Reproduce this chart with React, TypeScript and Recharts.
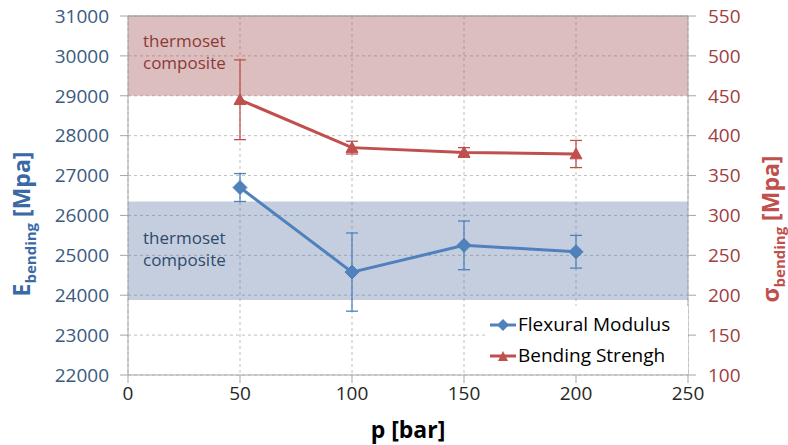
import React from "react";
import {
  LineChart,
  Line,
  XAxis,
  YAxis,
  CartesianGrid,
  ReferenceArea,
  ReferenceLine,
  ErrorBar,
} from "recharts";

// values
const pressure = [50, 100, 150, 200];
const modulus = [26700, 24580, 25250, 25090];
const modulusErr = [350, 980, 610, 410];
const strength = [445, 385, 379, 377];
const strengthErr = [50, 8, 6, 17];

const xTicks = [0, 50, 100, 150, 200, 250];
const leftTicks = [22000, 23000, 24000, 25000, 26000, 27000, 28000, 29000, 30000, 31000];
const rightTicks = [100, 150, 200, 250, 300, 350, 400, 450, 500, 550];

const modulusBand = [23880, 26350];
const strengthBand = [450, 550];

const BLUE = "#4f81bd";
const RED = "#c0504d";
const FONT = "'Open Sans', sans-serif";

const data = pressure.map((p, i) => ({
  p,
  modulus: modulus[i],
  modulusErr: modulusErr[i],
  strength: strength[i],
  strengthErr: strengthErr[i],
}));

const Diamond = (props: any) => {
  const { cx, cy } = props;
  if (cx == null || cy == null) return null;
  const r = 7;
  return (
    <polygon
      points={`${cx},${cy - r} ${cx + r},${cy} ${cx},${cy + r} ${cx - r},${cy}`}
      fill={BLUE}
      stroke={BLUE}
    />
  );
};

const Triangle = (props: any) => {
  const { cx, cy } = props;
  if (cx == null || cy == null) return null;
  const r = 6;
  return (
    <polygon
      points={`${cx},${cy - r} ${cx + r},${cy + r * 0.8} ${cx - r},${cy + r * 0.8}`}
      fill={RED}
      stroke={RED}
    />
  );
};

const bandLabel = (color: string, dy: number) => (props: any) => {
  const { x, y } = props.viewBox;
  return (
    <g fill={color} fontSize={17} fontFamily={FONT}>
      <text x={x + 15} y={y + dy - 1}>thermoset</text>
      <text x={x + 15} y={y + dy + 21}>composite</text>
    </g>
  );
};

const leftTitle = () => (
  <text
    transform="translate(30, 224) rotate(-90)"
    textAnchor="middle"
    fill="#3a6aa5"
    fontFamily={FONT}
    fontWeight="bold"
    fontSize={23}
  >
    E<tspan fontSize={15} dy={6}>bending</tspan>
    <tspan dy={-6}> [Mpa]</tspan>
  </text>
);

const rightTitle = () => (
  <text
    transform="translate(779, 229) rotate(-90)"
    textAnchor="middle"
    fill={RED}
    fontFamily={FONT}
    fontWeight="bold"
    fontSize={23}
  >
    σ<tspan fontSize={15} dy={6}>bending</tspan>
    <tspan dy={-6}> [Mpa]</tspan>
  </text>
);

const LegendBox = () => (
  <div
    style={{
      position: "absolute",
      left: 488,
      top: 306,
      background: "#fff",
      width: 198,
      padding: "3px 0 3px 2px",
      fontFamily: FONT,
      fontSize: 19,
      color: "#000",
      lineHeight: "31px",
    }}
  >
    <div style={{ display: "flex", alignItems: "center" }}>
      <svg width={26} height={16}>
        <line x1={0} y1={8} x2={26} y2={8} stroke={BLUE} strokeWidth={3} />
        <polygon points="13,2 19,8 13,14 7,8" fill={BLUE} />
      </svg>
      <span style={{ marginLeft: 2 }}>Flexural Modulus</span>
    </div>
    <div style={{ display: "flex", alignItems: "center" }}>
      <svg width={26} height={16}>
        <line x1={0} y1={8} x2={26} y2={8} stroke={RED} strokeWidth={3} />
        <polygon points="13,3 18,13 8,13" fill={RED} />
      </svg>
      <span style={{ marginLeft: 2 }}>Bending Strengh</span>
    </div>
  </div>
);

export default function App() {
  return (
    <div style={{ position: "absolute", left: 0, top: 0, width: 788, height: 445, background: "#fff" }}>
      <LineChart width={788} height={445} data={data} margin={{ top: 16, right: 0, bottom: 0, left: 0 }}>
        <CartesianGrid yAxisId="left" stroke="#bfbfbf" strokeDasharray="3 3" />
        <ReferenceArea
          yAxisId="right"
          y1={strengthBand[0]}
          y2={strengthBand[1]}
          fill="#9b4545"
          fillOpacity={0.35}
          stroke="none"
          label={bandLabel("#8b3a3a", 32)}
        />
        <ReferenceArea
          yAxisId="left"
          y1={modulusBand[0]}
          y2={modulusBand[1]}
          fill="#4f6a9f"
          fillOpacity={0.33}
          stroke="none"
          label={bandLabel("#2e4a6b", 44)}
        />
        <ReferenceLine yAxisId="left" y={31000} stroke="#a6a6a6" strokeWidth={1.5} />
        <XAxis
          dataKey="p"
          type="number"
          domain={[0, 250]}
          ticks={xTicks}
          height={70}
          stroke="#a6a6a6"
          tickSize={8}
          tickMargin={4}
          tick={{ fill: "#262626", fontSize: 19, fontFamily: FONT }}
          label={{
            value: "p [bar]",
            position: "insideBottom",
            offset: 7,
            fill: "#000",
            fontSize: 23,
            fontWeight: "bold",
            fontFamily: FONT,
          }}
        />
        <YAxis
          yAxisId="left"
          domain={[22000, 31000]}
          ticks={leftTicks}
          width={128}
          stroke="#a6a6a6"
          tickSize={8}
          tickMargin={11}
          allowDataOverflow
          tick={{ fill: "#3b5a80", fontSize: 19, fontFamily: FONT }}
          label={{ content: leftTitle }}
        />
        <YAxis
          yAxisId="right"
          orientation="right"
          domain={[100, 550]}
          ticks={rightTicks}
          width={100}
          stroke="#a6a6a6"
          tickSize={8}
          tickMargin={12}
          allowDataOverflow
          tick={{ fill: "#a04040", fontSize: 19, fontFamily: FONT }}
          label={{ content: rightTitle }}
        />
        <Line
          yAxisId="left"
          dataKey="modulus"
          stroke={BLUE}
          strokeWidth={3}
          dot={<Diamond />}
          activeDot={false}
          isAnimationActive={false}
        >
          <ErrorBar dataKey="modulusErr" width={6} stroke={BLUE} strokeWidth={1.3} direction="y" isAnimationActive={false} />
        </Line>
        <Line
          yAxisId="right"
          dataKey="strength"
          stroke={RED}
          strokeWidth={3}
          dot={<Triangle />}
          activeDot={false}
          isAnimationActive={false}
        >
          <ErrorBar dataKey="strengthErr" width={6} stroke={RED} strokeWidth={1.3} direction="y" isAnimationActive={false} />
        </Line>
      </LineChart>
      <LegendBox />
    </div>
  );
}
